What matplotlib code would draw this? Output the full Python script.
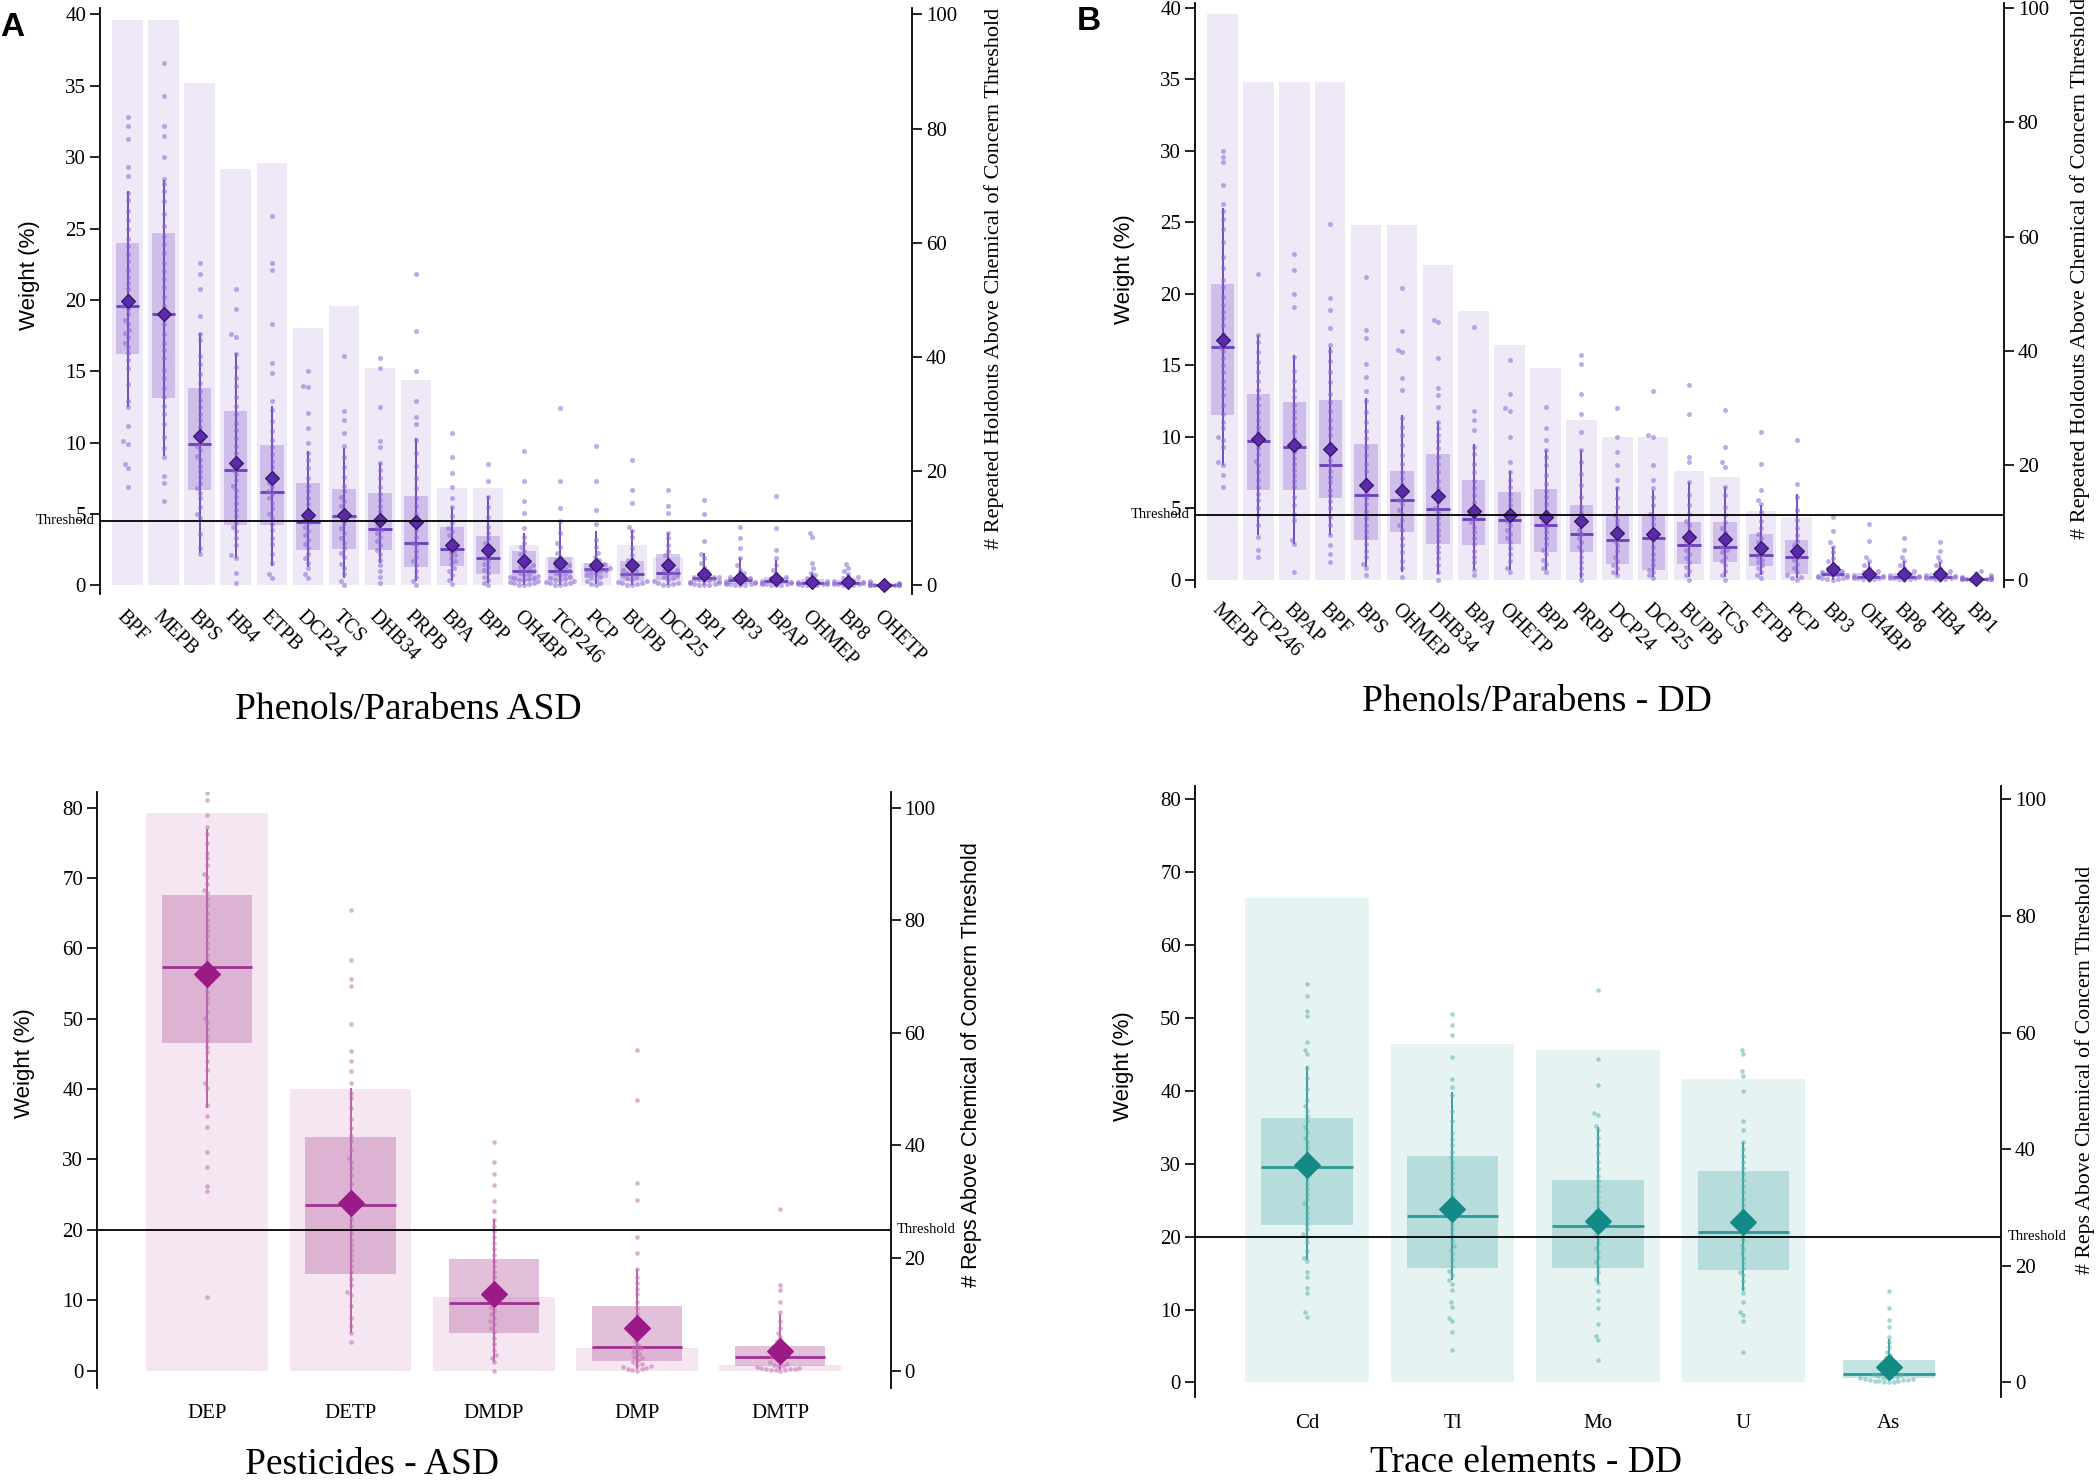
import warnings
import numpy as np
import pandas as pd
import matplotlib
matplotlib.use('Agg')
import matplotlib.pyplot as plt
import matplotlib.transforms as mtransforms
import seaborn as sns

warnings.filterwarnings('ignore')

SERIF = 'Liberation Serif'
SANS = 'Liberation Sans'

###  data  ###

# A: Phenols/Parabens ASD
a_names = ['BPF', 'MEPB', 'BPS', 'HB4', 'ETPB', 'DCP24', 'TCS', 'DHB34', 'PRPB', 'BPA', 'BPP',
           'OH4BP', 'TCP246', 'PCP', 'BUPB', 'DCP25', 'BP1', 'BP3', 'BPAP', 'OHMEP', 'BP8', 'OHETP']
a_counts = [99, 99, 88, 73, 74, 45, 49, 38, 36, 17, 17, 7, 5, 4, 7, 5, 1, 0, 0, 0, 0, 0]
a_q1 = [16.2, 13.1, 6.7, 4.25, 4.25, 2.47, 2.53, 2.47, 1.28, 1.34, 0.81,
        0.3, 0.35, 0.55, 0.3, 0.4, 0.25, 0.1, 0.1, 0.08, 0.1, 0.02]
a_med = [19.6, 19.0, 9.9, 8.1, 6.57, 4.47, 4.9, 3.94, 2.94, 2.53, 1.9,
         1.03, 0.98, 1.17, 0.82, 0.89, 0.51, 0.35, 0.3, 0.2, 0.2, 0.05]
a_q3 = [24.0, 24.7, 13.85, 12.2, 9.85, 7.16, 6.76, 6.5, 6.3, 4.1, 3.47,
        2.4, 2.0, 1.6, 1.68, 2.2, 0.75, 0.6, 0.6, 0.45, 0.4, 0.1]
a_mean = [19.9, 19.0, 10.45, 8.55, 7.5, 4.97, 4.94, 4.6, 4.47, 2.85, 2.47,
          1.72, 1.54, 1.45, 1.45, 1.45, 0.82, 0.51, 0.47, 0.26, 0.26, 0.02]
a_lo = [12.5, 9.1, 2.3, 1.9, 1.35, 1.3, 0.5, 1.6, 0.3, 0.3, 0.2,
        0.0, 0.05, 0.1, 0.0, 0.05, 0.05, 0.0, 0.0, 0.0, 0.0, 0.0]
a_hi = [27.6, 28.4, 17.7, 16.3, 12.6, 9.4, 9.6, 8.6, 10.3, 5.5, 6.3,
        3.7, 4.5, 3.8, 3.9, 3.7, 2.3, 1.9, 1.8, 0.9, 0.8, 0.2]
a_points = [
    [6.9, 8.2, 8.5, 9.9, 10.1, 11.2, 12.5, 12.9, 14.1, 15.2, 15.8, 16.3, 16.7, 17.0, 17.4, 17.7, 17.9, 18.3,
     18.6, 19.0, 19.4, 19.6, 19.9, 20.3, 20.8, 21.2, 21.6, 22.1, 22.7, 23.2, 23.8, 24.3, 25.0, 25.6, 26.2,
     27.0, 27.5, 28.7, 29.3, 31.3, 32.2, 32.8],
    [5.9, 7.2, 7.7, 9.0, 9.6, 10.4, 11.3, 12.0, 12.6, 13.2, 13.8, 14.5, 15.1, 15.9, 16.5, 17.0, 17.6, 18.3,
     18.8, 19.1, 19.6, 20.2, 20.9, 21.5, 22.0, 22.6, 23.3, 23.9, 24.5, 25.2, 26.0, 26.9, 27.6, 28.1, 28.5,
     30.0, 31.5, 32.2, 34.3, 36.6],
    [2.2, 2.6, 3.6, 4.7, 5.0, 5.5, 6.1, 6.5, 6.8, 7.2, 7.6, 8.0, 8.4, 8.8, 9.1, 9.5, 9.8, 10.0, 10.3, 10.7,
     11.1, 11.6, 12.0, 12.5, 13.0, 13.6, 14.2, 14.8, 15.5, 16.1, 17.2, 17.6, 18.9, 20.8, 21.8, 22.6],
    [0.2, 0.9, 1.9, 2.1, 2.8, 3.3, 3.8, 4.1, 4.4, 4.9, 5.3, 5.8, 6.2, 6.7, 7.0, 7.4, 7.8, 8.1, 8.4, 8.9,
     9.3, 9.8, 10.3, 10.9, 11.4, 12.0, 12.6, 13.2, 14.0, 14.5, 15.3, 16.2, 17.4, 17.6, 19.4, 20.8],
    [0.5, 0.8, 1.6, 2.2, 2.9, 3.3, 3.9, 4.3, 4.7, 5.0, 5.4, 5.8, 6.1, 6.4, 6.6, 6.9, 7.2, 7.5, 7.9, 8.3,
     8.7, 9.2, 9.7, 10.2, 10.8, 11.5, 12.3, 12.9, 14.9, 15.6, 18.3, 22.1, 22.6, 25.9],
    [0.5, 0.8, 1.2, 1.6, 1.9, 2.2, 2.6, 2.9, 3.2, 3.5, 3.8, 4.1, 4.4, 4.6, 4.9, 5.3, 5.7, 6.1, 6.6, 7.0,
     7.5, 8.2, 8.8, 9.3, 10.0, 11.0, 12.1, 13.9, 14.0, 15.0],
    [0.0, 0.3, 0.8, 1.2, 1.5, 2.0, 2.3, 2.6, 3.0, 3.3, 3.7, 4.0, 4.4, 4.8, 5.0, 5.3, 5.6, 5.9, 6.2, 6.6,
     7.0, 7.6, 8.3, 9.0, 9.8, 10.7, 11.6, 12.2, 16.1],
    [0.2, 0.6, 1.0, 1.4, 1.8, 2.2, 2.5, 2.8, 3.1, 3.4, 3.7, 3.9, 4.1, 4.4, 4.8, 5.2, 5.6, 6.0, 6.4, 6.9,
     7.5, 8.1, 8.6, 9.7, 10.1, 12.5, 15.2, 15.9],
    [0.0, 0.3, 0.6, 1.0, 1.4, 1.7, 2.0, 2.4, 2.8, 3.0, 3.4, 3.9, 4.4, 5.0, 5.6, 6.1, 6.8, 7.5, 8.4, 9.3,
     10.2, 11.3, 11.8, 12.9, 15.0, 17.8, 21.8],
    [0.1, 0.4, 0.7, 1.0, 1.2, 1.5, 1.7, 1.9, 2.1, 2.3, 2.5, 2.7, 2.9, 3.2, 3.5, 3.8, 4.0, 4.4, 4.9, 5.5,
     6.1, 6.9, 7.9, 9.0, 10.7],
    [0.0, 0.2, 0.4, 0.6, 0.9, 1.1, 1.3, 1.5, 1.7, 1.9, 2.1, 2.4, 2.7, 3.0, 3.3, 3.7, 4.1, 4.8, 5.5, 6.2,
     7.3, 8.5],
    [0.0, 0.05, 0.1, 0.15, 0.2, 0.25, 0.3, 0.35, 0.4, 0.45, 0.5, 0.55, 0.6, 0.65, 0.7, 0.8, 0.9, 1.0, 1.1,
     1.2, 1.3, 1.4, 1.6, 1.8, 2.0, 2.2, 2.4, 2.7, 3.0, 3.4, 4.0, 5.1, 5.9, 7.3, 9.4],
    [0.0, 0.05, 0.1, 0.15, 0.2, 0.25, 0.3, 0.35, 0.4, 0.45, 0.5, 0.6, 0.7, 0.8, 0.9, 1.0, 1.1, 1.2, 1.3,
     1.4, 1.6, 1.8, 2.0, 2.3, 2.7, 3.0, 3.7, 4.5, 5.4, 7.3, 12.4],
    [0.0, 0.1, 0.2, 0.3, 0.4, 0.5, 0.6, 0.7, 0.8, 0.9, 1.0, 1.05, 1.1, 1.15, 1.2, 1.3, 1.4, 1.5, 1.6, 1.8,
     2.0, 2.3, 2.7, 3.2, 4.3, 5.3, 7.3, 9.8],
    [0.0, 0.05, 0.1, 0.15, 0.2, 0.25, 0.3, 0.4, 0.5, 0.6, 0.7, 0.8, 0.9, 1.0, 1.1, 1.2, 1.4, 1.6, 1.8,
     2.1, 2.6, 3.4, 3.8, 4.1, 5.8, 6.7, 8.8],
    [0.0, 0.05, 0.1, 0.15, 0.2, 0.3, 0.4, 0.5, 0.6, 0.7, 0.8, 0.9, 1.0, 1.1, 1.2, 1.5, 1.8, 2.1, 2.4, 2.8,
     3.3, 3.7, 5.1, 5.6, 6.7],
    [0.0, 0.02, 0.05, 0.08, 0.1, 0.15, 0.2, 0.25, 0.3, 0.35, 0.4, 0.45, 0.5, 0.55, 0.6, 0.7, 0.8, 1.0, 1.3,
     1.6, 1.9, 2.2, 3.1, 5.0, 6.0],
    [0.0, 0.02, 0.05, 0.08, 0.1, 0.12, 0.15, 0.2, 0.25, 0.3, 0.35, 0.4, 0.45, 0.5, 0.6, 0.7, 0.9, 1.1, 1.4,
     1.9, 2.6, 3.3, 4.1],
    [0.0, 0.02, 0.05, 0.08, 0.1, 0.12, 0.15, 0.2, 0.25, 0.3, 0.35, 0.4, 0.5, 0.6, 0.8, 1.1, 1.4, 1.9, 2.5,
     4.0, 6.3],
    [0.0, 0.02, 0.04, 0.06, 0.08, 0.1, 0.12, 0.15, 0.2, 0.25, 0.3, 0.4, 0.5, 0.7, 0.9, 1.2, 1.6, 3.4, 3.7],
    [0.0, 0.02, 0.05, 0.08, 0.1, 0.12, 0.15, 0.2, 0.25, 0.3, 0.35, 0.4, 0.5, 0.6, 0.8, 1.0, 1.2, 1.5],
    [0.0, 0.0, 0.01, 0.02, 0.03, 0.04, 0.05, 0.05, 0.06, 0.08, 0.1, 0.12, 0.15, 0.2, 0.3],
]

# B: Phenols/Parabens - DD
b_names = ['MEPB', 'TCP246', 'BPAP', 'BPF', 'BPS', 'OHMEP', 'DHB34', 'BPA', 'OHETP', 'BPP', 'PRPB',
           'DCP24', 'DCP25', 'BUPB', 'TCS', 'ETPB', 'PCP', 'BP3', 'OH4BP', 'BP8', 'HB4', 'BP1']
b_counts = [99, 87, 87, 87, 62, 62, 55, 47, 41, 37, 28, 25, 25, 19, 18, 12, 11, 0, 0, 0, 0, 0]
b_q1 = [11.5, 6.3, 6.3, 5.7, 2.8, 3.35, 2.5, 2.4, 2.5, 1.96, 1.9, 1.1, 0.7, 1.1, 1.25, 0.94, 0.4,
        0.15, 0.05, 0.05, 0.05, 0.0]
b_med = [16.3, 9.7, 9.3, 8.0, 5.9, 5.6, 4.96, 4.23, 4.15, 3.83, 3.2, 2.76, 2.9, 2.44, 2.25, 1.72, 1.6,
         0.4, 0.2, 0.2, 0.2, 0.03]
b_q3 = [20.7, 13.0, 12.4, 12.6, 9.46, 7.6, 8.76, 7.0, 6.1, 6.35, 5.2, 4.55, 4.56, 4.06, 4.0, 3.2, 2.75,
        0.6, 0.45, 0.45, 0.45, 0.08]
b_mean = [16.8, 9.83, 9.43, 9.16, 6.6, 6.2, 5.87, 4.77, 4.53, 4.37, 4.07, 3.27, 3.2, 3.0, 2.84, 2.2, 2.0,
          0.72, 0.4, 0.4, 0.4, 0.02]
b_lo = [8.0, 3.1, 2.5, 3.1, 0.9, 0.5, 0.4, 0.7, 0.7, 0.7, 0.1, 0.3, 0.2, 0.2, 0.2, 0.3, 0.1,
        0.0, 0.0, 0.0, 0.0, 0.0]
b_hi = [26.0, 17.1, 15.7, 16.3, 12.7, 11.5, 11.0, 9.5, 7.6, 9.1, 9.1, 6.5, 6.3, 6.8, 6.5, 5.2, 6.0,
        2.3, 1.2, 1.3, 1.2, 0.3]
b_points = [
    [6.5, 7.3, 8.0, 8.2, 9.3, 9.8, 10.0, 10.6, 11.0, 11.6, 12.2, 12.9, 13.4, 13.9, 14.5, 15.0, 15.5, 16.0,
     16.3, 16.6, 17.2, 17.8, 18.3, 18.7, 19.2, 19.8, 20.5, 21.0, 21.8, 22.6, 23.6, 24.5, 25.2, 25.8, 26.3,
     27.6, 29.2, 29.6, 30.0],
    [1.6, 2.1, 3.0, 3.8, 4.5, 5.0, 5.6, 6.0, 6.5, 7.0, 7.5, 8.0, 8.3, 8.8, 9.2, 9.6, 9.9, 10.3, 10.7, 11.2,
     11.7, 12.2, 12.7, 13.3, 13.9, 14.5, 15.2, 15.9, 16.6, 17.1, 21.4],
    [0.5, 2.5, 2.8, 4.2, 4.6, 5.2, 5.8, 6.5, 6.9, 7.3, 7.7, 8.1, 8.5, 8.9, 9.2, 9.5, 9.9, 10.4, 10.8, 11.3,
     11.8, 12.2, 12.8, 13.3, 13.9, 14.6, 15.6, 19.1, 20.0, 21.7, 22.8],
    [1.2, 1.8, 2.4, 3.1, 3.8, 4.4, 5.0, 5.5, 5.9, 6.3, 6.8, 7.2, 7.6, 8.0, 8.4, 8.9, 9.5, 10.1, 10.6, 11.2,
     11.8, 12.4, 13.0, 13.8, 14.5, 15.3, 16.0, 16.4, 17.6, 18.9, 19.7, 24.9],
    [0.3, 0.8, 1.1, 1.6, 2.0, 2.5, 3.0, 3.4, 3.8, 4.3, 4.8, 5.3, 5.7, 6.1, 6.5, 7.0, 7.6, 8.1, 8.7, 9.3,
     9.9, 10.4, 11.0, 11.7, 12.5, 13.2, 14.2, 15.1, 16.9, 17.5, 21.2],
    [0.2, 0.8, 1.3, 1.9, 2.4, 2.9, 3.5, 3.8, 4.2, 4.6, 4.9, 5.3, 5.6, 5.9, 6.3, 6.7, 7.1, 7.5, 8.1, 8.7,
     9.4, 10.1, 10.7, 11.3, 13.3, 14.1, 15.9, 16.1, 17.4, 20.4],
    [0.0, 0.5, 1.0, 1.5, 1.9, 2.3, 2.7, 3.1, 3.5, 3.9, 4.3, 4.7, 5.0, 5.4, 5.9, 6.4, 6.9, 7.5, 8.1, 8.6,
     9.2, 9.7, 10.1, 10.6, 11.0, 12.1, 12.9, 13.4, 15.5, 18.0, 18.2],
    [0.3, 0.7, 1.2, 1.6, 2.0, 2.5, 2.9, 3.3, 3.7, 4.0, 4.3, 4.6, 5.0, 5.4, 5.9, 6.4, 6.9, 7.5, 8.1, 8.8,
     9.3, 10.5, 11.2, 11.8, 17.7],
    [0.5, 0.8, 1.3, 1.8, 2.2, 2.6, 2.9, 3.2, 3.5, 3.8, 4.1, 4.4, 4.8, 5.2, 5.6, 6.0, 6.5, 7.0, 7.5, 8.2,
     10.0, 11.8, 12.0, 13.0, 15.4],
    [0.5, 0.8, 1.1, 1.4, 1.8, 2.1, 2.5, 2.9, 3.3, 3.7, 4.0, 4.4, 4.8, 5.3, 5.8, 6.2, 6.7, 7.3, 8.0, 8.6,
     9.1, 9.8, 10.6, 12.1],
    [0.0, 0.4, 0.8, 1.2, 1.6, 2.0, 2.3, 2.6, 2.9, 3.2, 3.5, 3.9, 4.3, 4.7, 5.1, 5.8, 6.6, 7.4, 8.2, 9.1,
     10.3, 11.6, 13.0, 15.1, 15.7],
    [0.3, 0.5, 0.8, 1.0, 1.3, 1.6, 2.0, 2.4, 2.7, 3.0, 3.4, 3.8, 4.2, 4.5, 5.1, 5.7, 6.4, 7.0, 8.0, 8.9,
     10.0, 12.0],
    [0.1, 0.3, 0.5, 0.7, 1.0, 1.4, 1.8, 2.3, 2.8, 3.1, 3.5, 3.9, 4.3, 4.6, 5.2, 5.8, 6.4, 7.0, 8.0, 10.0,
     10.1, 13.2],
    [0.0, 0.3, 0.6, 0.9, 1.2, 1.5, 1.8, 2.1, 2.4, 2.7, 3.0, 3.4, 3.8, 4.1, 4.6, 5.2, 5.9, 6.8, 8.2, 8.6,
     11.6, 13.6],
    [0.0, 0.3, 0.6, 1.0, 1.3, 1.6, 1.9, 2.1, 2.3, 2.6, 2.9, 3.3, 3.6, 4.0, 4.5, 5.1, 5.9, 6.5, 7.9, 8.2,
     9.3, 11.9],
    [0.1, 0.3, 0.5, 0.8, 1.0, 1.2, 1.4, 1.6, 1.8, 2.0, 2.3, 2.6, 2.9, 3.2, 3.6, 4.1, 4.7, 5.3, 5.6, 6.3,
     8.1, 10.3],
    [0.0, 0.1, 0.2, 0.3, 0.5, 0.8, 1.1, 1.4, 1.6, 1.8, 2.1, 2.4, 2.7, 3.1, 3.6, 4.2, 4.9, 5.8, 6.7, 9.8],
    [0.0, 0.02, 0.05, 0.08, 0.1, 0.15, 0.2, 0.25, 0.3, 0.35, 0.4, 0.45, 0.5, 0.6, 0.7, 0.8, 0.9, 1.1, 1.3,
     1.5, 1.9, 2.3, 2.6, 3.4, 4.4],
    [0.0, 0.02, 0.05, 0.08, 0.1, 0.12, 0.15, 0.2, 0.25, 0.3, 0.35, 0.4, 0.5, 0.6, 0.8, 1.0, 1.3, 1.6, 2.7,
     3.9],
    [0.0, 0.02, 0.05, 0.08, 0.1, 0.12, 0.15, 0.2, 0.25, 0.3, 0.35, 0.4, 0.5, 0.6, 0.8, 1.0, 1.3, 1.6, 2.1,
     2.9],
    [0.0, 0.02, 0.05, 0.08, 0.1, 0.12, 0.15, 0.2, 0.25, 0.3, 0.35, 0.4, 0.5, 0.6, 0.8, 1.0, 1.3, 1.6, 2.0,
     2.6],
    [0.0, 0.0, 0.01, 0.02, 0.03, 0.04, 0.05, 0.05, 0.06, 0.08, 0.1, 0.12, 0.15, 0.2, 0.3, 0.45, 0.6],
]

# C: Pesticides - ASD
c_names = ['DEP', 'DETP', 'DMDP', 'DMP', 'DMTP']
c_counts = [99, 50, 13, 4, 1]
c_q1 = [46.5, 13.7, 5.3, 1.4, 0.6]
c_med = [57.3, 23.5, 9.67, 3.3, 2.0]
c_q3 = [67.6, 33.2, 15.85, 9.15, 3.5]
c_mean = [56.3, 23.8, 10.9, 6.1, 2.8]
c_lo = [37.3, 5.3, 1.3, 0.3, 0.1]
c_hi = [77.0, 40.1, 21.6, 14.5, 8.0]
c_points = [
    [10.5, 25.5, 26.2, 29.0, 31.0, 34.6, 36.2, 37.8, 40.2, 40.8, 42.7, 44.0, 45.2, 46.0, 46.8, 47.6, 48.5,
     49.5, 50.1, 51.0, 52.2, 53.0, 53.8, 54.6, 55.5, 56.2, 57.0, 57.6, 58.3, 59.1, 60.0, 60.8, 61.7, 62.5,
     63.2, 64.0, 65.0, 66.1, 67.0, 67.8, 68.3, 69.2, 70.1, 70.6, 71.8, 72.9, 73.6, 75.0, 76.2, 77.2, 79.0,
     81.0, 82.0],
    [4.0, 5.3, 6.4, 7.5, 9.2, 10.8, 11.2, 12.2, 13.0, 14.0, 14.8, 15.7, 16.4, 17.1, 17.8, 18.6, 19.5, 20.6,
     21.5, 22.4, 23.3, 24.2, 25.3, 26.5, 27.8, 28.8, 29.6, 30.2, 31.4, 32.6, 33.3, 34.5, 35.8, 37.3, 38.8,
     39.5, 40.9, 42.5, 44.0, 45.4, 49.3, 54.7, 55.6, 58.4, 65.5],
    [0.0, 1.2, 1.8, 2.2, 3.0, 3.8, 4.6, 5.5, 6.0, 6.6, 7.0, 7.5, 8.0, 8.5, 9.0, 9.5, 10.0, 10.6, 11.2, 11.8,
     12.5, 13.3, 14.0, 14.9, 15.6, 16.5, 17.3, 18.2, 19.0, 19.8, 20.5, 21.4, 22.7, 24.1, 26.4, 28.0, 29.6,
     32.5],
    [0.0, 0.1, 0.2, 0.3, 0.4, 0.5, 0.6, 0.8, 1.0, 1.2, 1.5, 1.8, 2.0, 2.3, 2.6, 2.9, 3.2, 3.4, 3.7, 4.2,
     4.8, 5.5, 6.3, 7.2, 8.0, 8.9, 9.8, 10.9, 11.6, 12.4, 13.3, 14.4, 16.7, 19.0, 24.3, 26.6, 38.4, 45.5],
    [0.0, 0.05, 0.1, 0.15, 0.2, 0.25, 0.3, 0.35, 0.4, 0.5, 0.6, 0.7, 0.8, 1.0, 1.2, 1.4, 1.6, 1.8, 2.0,
     2.2, 2.4, 2.7, 3.0, 3.3, 3.7, 4.2, 4.8, 5.4, 6.0, 7.1, 8.3, 9.8, 11.5, 12.2, 23.0],
]

# D: Trace elements - DD
d_names = ['Cd', 'Tl', 'Mo', 'U', 'As']
d_counts = [83, 58, 57, 52, 0]
d_q1 = [21.6, 15.7, 15.7, 15.4, 0.6]
d_med = [29.5, 22.8, 21.4, 20.7, 1.1]
d_q3 = [36.3, 31.1, 27.8, 29.0, 3.1]
d_mean = [29.8, 23.8, 22.2, 22.0, 2.1]
d_lo = [16.8, 14.0, 13.7, 12.6, 0.3]
d_hi = [43.4, 39.8, 35.0, 33.0, 6.0]
d_points = [
    [9.0, 9.6, 12.3, 13.0, 14.4, 15.2, 16.6, 17.1, 18.0, 19.2, 20.0, 20.4, 21.0, 21.8, 22.5, 23.3, 24.1,
     24.6, 25.1, 25.8, 26.6, 27.3, 28.1, 28.8, 29.4, 30.0, 30.7, 31.5, 32.3, 33.0, 33.6, 34.4, 35.0, 35.8,
     36.6, 37.3, 37.9, 38.7, 40.3, 41.8, 43.2, 45.0, 45.6, 46.7, 50.3, 51.0, 53.0, 54.6],
    [4.5, 6.9, 8.4, 8.9, 10.4, 11.0, 12.7, 13.5, 14.0, 14.8, 15.3, 16.0, 16.8, 17.6, 18.2, 18.7, 19.4, 20.2,
     21.0, 21.8, 22.5, 23.2, 24.0, 24.8, 25.6, 26.4, 27.2, 28.0, 28.7, 29.5, 30.3, 30.9, 31.6, 32.6, 33.4,
     34.2, 35.8, 37.2, 39.4, 40.6, 41.6, 44.7, 47.6, 49.0, 50.5],
    [3.1, 5.8, 6.4, 8.0, 10.2, 11.3, 12.5, 13.6, 14.2, 15.2, 15.9, 16.5, 17.2, 17.9, 18.5, 19.1, 19.8, 20.4,
     21.0, 21.6, 22.2, 22.9, 23.5, 24.1, 24.8, 25.5, 26.2, 26.9, 27.6, 28.3, 29.3, 30.2, 31.5, 32.6, 33.5,
     34.6, 35.2, 36.7, 37.0, 40.8, 44.4, 53.8],
    [4.2, 8.4, 9.2, 9.6, 11.0, 12.3, 13.0, 13.9, 14.7, 15.1, 15.7, 16.4, 17.1, 17.7, 18.3, 18.9, 19.5, 20.1,
     20.7, 21.4, 22.1, 22.9, 23.6, 24.4, 25.2, 26.1, 26.9, 27.8, 28.6, 29.4, 30.2, 31.0, 32.0, 33.0, 34.6,
     35.8, 40.0, 42.1, 42.7, 45.0, 45.6],
    [0.0, 0.05, 0.1, 0.15, 0.2, 0.25, 0.3, 0.35, 0.4, 0.45, 0.5, 0.55, 0.6, 0.65, 0.7, 0.8, 0.9, 1.0, 1.1,
     1.2, 1.4, 1.6, 1.8, 2.1, 2.4, 2.7, 3.0, 3.3, 3.7, 4.2, 4.8, 5.5, 6.2, 7.6, 8.6, 10.2, 12.5],
]

purple = dict(bar='#efe9f7', box='#a88ad8', box_alpha=0.45, med='#6a3fbc', line='#6a3fbc',
              pt='#8a68d4', mean='#5a2aa8', edge='#2e1060')
magenta = dict(bar='#f5e6f1', box='#c681b8', box_alpha=0.5, med='#a0308e', line='#b55aa6',
               pt='#c46db4', mean='#9b1a86', edge='#9b1a86')
teal = dict(bar='#e6f3f3', box='#7cc4c2', box_alpha=0.45, med='#2a9a96', line='#2a9a96',
            pt='#5db5b0', mean='#138a85', edge='#138a85')

fig = plt.figure(figsize=(21, 14.81), dpi=100)


def panel(rect, names, counts, q1, med, q3, mean, lo, hi, pts, col, ylim, ystep, scale,
          thr, rlabel, rfont, rsize, top, msize, bw, llab, rlab, psize):
    ax = fig.add_axes(rect)
    ax2 = ax.twinx()
    ax.set_zorder(ax2.get_zorder() + 1)
    ax.patch.set_visible(False)
    x = np.arange(len(names))

    # holdout counts (right axis)
    ax2.bar(x, counts, width=0.85, color=col['bar'], linewidth=0)
    # IQR box, median, interval line
    ax.bar(x, np.array(q3) - np.array(q1), bottom=q1, width=bw, color=col['box'],
           alpha=col['box_alpha'], linewidth=0, zorder=2)
    ax.hlines(med, x - bw / 2, x + bw / 2, color=col['med'], lw=2, zorder=3)
    ax.vlines(x, lo, hi, color=col['line'], lw=1.3, zorder=4)

    df = pd.DataFrame({'cat': np.repeat(names, [len(p) for p in pts]),
                       'val': np.concatenate(pts)})
    sns.swarmplot(data=df, x='cat', y='val', order=names, ax=ax, size=psize,
                  color=col['pt'], alpha=0.55, zorder=5)
    ax.plot(x, mean, 'D', ms=msize, color=col['mean'], mec=col['edge'], mew=0.8,
            zorder=6, linestyle='none')

    ax.axhline(thr, color='black', lw=1.3, zorder=7)

    ax.set_xlim(-0.77, len(names) - 1 + 0.77)
    ax.set_ylim(*ylim)
    ax2.set_ylim(ylim[0] * scale, ylim[1] * scale)
    ax.set_yticks(np.arange(0, ylim[1], ystep))
    ax2.set_yticks(np.arange(0, 101, 20))
    ax.set_xticks(x)
    if top:
        ax.set_xticklabels(names, rotation=-45, ha='left', va='center',
                           rotation_mode='anchor', fontfamily=SERIF, fontsize=14.5)
        ax.tick_params(axis='x', length=0, pad=14)
        for lab in ax.get_xticklabels():
            lab.set_transform(lab.get_transform() +
                              mtransforms.ScaledTranslation(-8 / 100, 0, fig.dpi_scale_trans))
    else:
        ax.set_xticklabels(names, fontfamily=SERIF, fontsize=15)
        ax.tick_params(axis='x', length=0, pad=12)

    for a in (ax, ax2):
        a.tick_params(axis='y', length=7, width=1.2, labelsize=15, pad=3)
        for lab in a.get_yticklabels():
            lab.set_fontfamily(SERIF)
        for s in ('top', 'bottom'):
            a.spines[s].set_visible(False)
    ax.spines['right'].set_visible(False)
    ax2.spines['left'].set_visible(False)
    ax.spines['left'].set_linewidth(1.3)
    ax2.spines['right'].set_linewidth(1.3)

    ax.set_xlabel('')
    ax.set_ylabel('Weight (%)', fontfamily=SANS, fontsize=16)
    ax.yaxis.set_label_coords(*llab)
    ax2.set_ylabel(rlabel, fontfamily=rfont, fontsize=rsize, rotation=90)
    ax2.yaxis.set_label_coords(*rlab)

    tr = mtransforms.blended_transform_factory(ax.transAxes, ax.transData)
    if top:
        ax.text(-0.007, thr, 'Threshold', transform=tr, ha='right', va='center',
                fontfamily=SERIF, fontsize=10.5, zorder=8)
    else:
        ax.text(1.008, thr, 'Threshold', transform=tr, ha='left', va='center',
                fontfamily=SERIF, fontsize=10.5, zorder=8)
    return ax


panel([0.0476, 0.5989, 0.3867, 0.3957], a_names, a_counts, a_q1, a_med, a_q3, a_mean, a_lo, a_hi,
      a_points, purple, (-0.6, 40.45), 5, 2.5, 100 / 22,
      '# Repeated Holdouts Above Chemical of Concern Threshold', SERIF, 16, True, 7, 0.65,
      (-0.074, 0.544), (1.089, 0.539), 3.6)
panel([0.5690, 0.6036, 0.3852, 0.3944], b_names, b_counts, b_q1, b_med, b_q3, b_mean, b_lo, b_hi,
      b_points, purple, (-0.52, 40.35), 5, 2.5, 100 / 22,
      '# Repeated Holdouts Above Chemical of Concern Threshold', SERIF, 16, True, 7, 0.65,
      (-0.074, 0.545), (1.082, 0.545), 3.6)
panel([0.0462, 0.0631, 0.3779, 0.4021], c_names, c_counts, c_q1, c_med, c_q3, c_mean, c_lo, c_hi,
      c_points, magenta, (-2.4, 82.2), 10, 1.25, 20,
      '# Reps Above Chemical of Concern Threshold', SANS, 15.7, False, 13, 0.63,
      (-0.078, 0.545), (1.089, 0.542), 3.3)
panel([0.5690, 0.0567, 0.3838, 0.4127], d_names, d_counts, d_q1, d_med, d_q3, d_mean, d_lo, d_hi,
      d_points, teal, (-2.0, 81.85), 10, 1.25, 20,
      '# Reps Above Chemical of Concern Threshold', SERIF, 15.7, False, 13, 0.63,
      (-0.076, 0.541), (1.092, 0.535), 3.3)

# panel titles and letters
fig.text(408 / 2100, 1 - 710 / 1481, 'Phenols/Parabens ASD', ha='center', va='center',
         fontfamily=SERIF, fontsize=27)
fig.text(1537 / 2100, 1 - 702 / 1481, 'Phenols/Parabens - DD', ha='center', va='center',
         fontfamily=SERIF, fontsize=27)
fig.text(372 / 2100, 1 - 1465 / 1481, 'Pesticides - ASD', ha='center', va='center',
         fontfamily=SERIF, fontsize=27)
fig.text(1526 / 2100, 1 - 1463 / 1481, 'Trace elements - DD', ha='center', va='center',
         fontfamily=SERIF, fontsize=27)
fig.text(0.0, 1 - 27 / 1481, 'A', ha='left', va='center', fontfamily=SANS,
         fontweight='bold', fontsize=24)
fig.text(1077 / 2100, 1 - 22 / 1481, 'B', ha='left', va='center', fontfamily=SANS,
         fontweight='bold', fontsize=24)

fig.savefig('out.png', dpi=100)
